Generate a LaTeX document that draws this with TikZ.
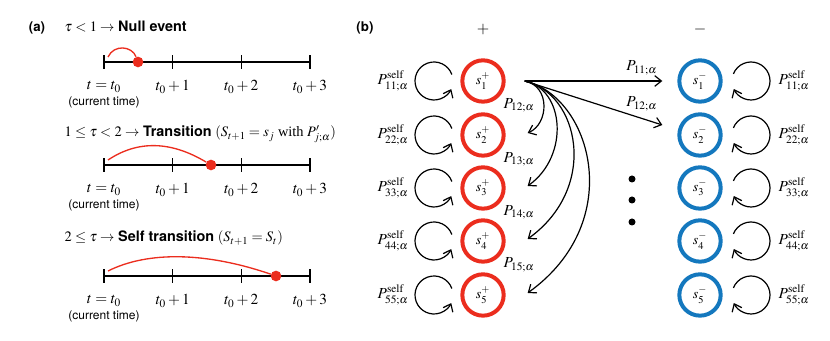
\documentclass[tikz,border=0pt]{standalone}
\usepackage{mathptmx}
\usepackage{fontspec}
\setmainfont{Liberation Serif}
\setsansfont{TeX Gyre Heros}
\usetikzlibrary{arrows.meta}

\definecolor{evred}{RGB}{235,45,30}
\definecolor{evblue}{RGB}{20,120,190}

\begin{document}
\begin{tikzpicture}[
    x=0.75pt, y=0.75pt,
    axis/.style={line width=1pt},
    jump/.style={evred, line width=1pt},
    event/.style={circle, fill=evred, inner sep=0pt, minimum size=8},
    tlabel/.style={font=\fontsize{11.5}{13}\selectfont},
    head/.style={anchor=base west, font=\fontsize{10.8}{13}\selectfont},
    plus/.style={circle, draw=evred, line width=3pt, minimum size=31pt, inner sep=0pt, font=\fontsize{10.5}{12}\selectfont},
    minus/.style={circle, draw=evblue, line width=3pt, minimum size=31pt, inner sep=0pt, font=\fontsize{10.5}{12}\selectfont},
    rate/.style={-{Straight Barb[length=5pt,width=8pt]}, line width=0.9pt},
    rlabel/.style={font=\fontsize{11.5}{13}\selectfont},
    panel/.style={font=\sffamily\bfseries}
]
\useasboundingbox (0,0) rectangle (830,341);

% (a) timelines
\node[panel] (la) at (37,313) {(a)};
\node[head] (h1) at (60,309) {$\tau<1\rightarrow$ \textsf{\textbf{Null event}}};
\node[head] (h2) at (60,204) {$1\le\tau<2\rightarrow$ \textsf{\textbf{Transition}} $(S_{t+1}=s_j$ with $P'_{j;\alpha})$};
\node[head] (h3) at (60,99) {$2\le\tau\rightarrow$ \textsf{\textbf{Self transition}} $(S_{t+1}=S_t)$};

\foreach \i/\y/\d in {1/279/138, 2/176/211, 3/65/276} {
  \draw[axis] (104,\y) coordinate (t\i0) -- (310,\y) coordinate (t\i3);
  \foreach \k/\x in {0/104, 1/172.7, 2/241.3, 3/310}
    \draw[axis] (\x,\y-7) -- (\x,\y+7);
  \node[tlabel] (l\i0) at (104,\y-25) {$t=t_0$};
  \node[font=\sffamily\small] (c\i) at (104,\y-40) {(current time)};
  \node[tlabel] (l\i1) at (172.7,\y-25) {$t_0+1$};
  \node[tlabel] (l\i2) at (241.3,\y-25) {$t_0+2$};
  \node[tlabel] (l\i3) at (310,\y-25) {$t_0+3$};
  \coordinate (s\i) at (108,\y+5);
  \node[event] (d\i) at (\d,\y) {};
}
\draw[jump] (s1) .. controls +(6,13) and +(-6,16) .. (d1);
\draw[jump] (s2) .. controls +(30,20) and +(-40,24) .. (d2);
\draw[jump] (s3) .. controls +(40,20) and +(-70,24) .. (d3);

% (b) states
\node[panel] (lb) at (365,313) {(b)};
\node (hp) at (483,311) {\large $+$};
\node (hm) at (700,311) {\large $-$};

\foreach \k/\y in {1/260, 2/206, 3/153, 4/100, 5/46} {
  \node[plus] (sp\k) at (483,\y) {$s_\k^+$};
  \node[minus] (sm\k) at (700,\y) {$s_\k^-$};
  \coordinate (lp\k) at (434,\y);
  \coordinate (lm\k) at (751,\y);
  \draw[rate] ([shift={(20:19)}]lp\k) arc[start angle=20, end angle=335, radius=19];
  \draw[rate] ([shift={(158:19)}]lm\k) arc[start angle=158, end angle=-155, radius=19];
  \node[rlabel] (pp\k) at (393,\y) {$P^{\mathrm{self}}_{\k\k;\alpha}$};
  \node[rlabel] (pm\k) at (794,\y) {$P^{\mathrm{self}}_{\k\k;\alpha}$};
}

% transitions out of s_1^+
\coordinate (src) at ([shift={(19,0)}]sp1.east);
\draw[rate] (src) -- ([shift={(-15,0)}]sm1.west) node[rlabel, pos=0.85, above=1pt] {$P_{11;\alpha}$};
\draw[rate] (src) -- ([shift={(-15,10)}]sm2.west) node[rlabel, pos=0.85, above=2pt] {$P_{12;\alpha}$};
\foreach \k/\a/\b/\c/\dd in {2/26/-5/21/9, 3/40/-8/42/30, 4/54/-12/72/52, 5/66/-15/100/72} {
  \coordinate (in\k) at ([shift={(22,2)}]sp\k.east);
  \draw[rate] (src) .. controls +(\a,\b) and +(\c,\dd) .. (in\k);
}
\foreach \k/\y in {2/236, 3/182, 4/129, 5/76}
  \node[rlabel] (q\k) at (519,\y) {$P_{1\k;\alpha}$};

\foreach \y in {162,141,119}
  \fill (632,\y) circle[radius=3.5];

\end{tikzpicture}
\end{document}
